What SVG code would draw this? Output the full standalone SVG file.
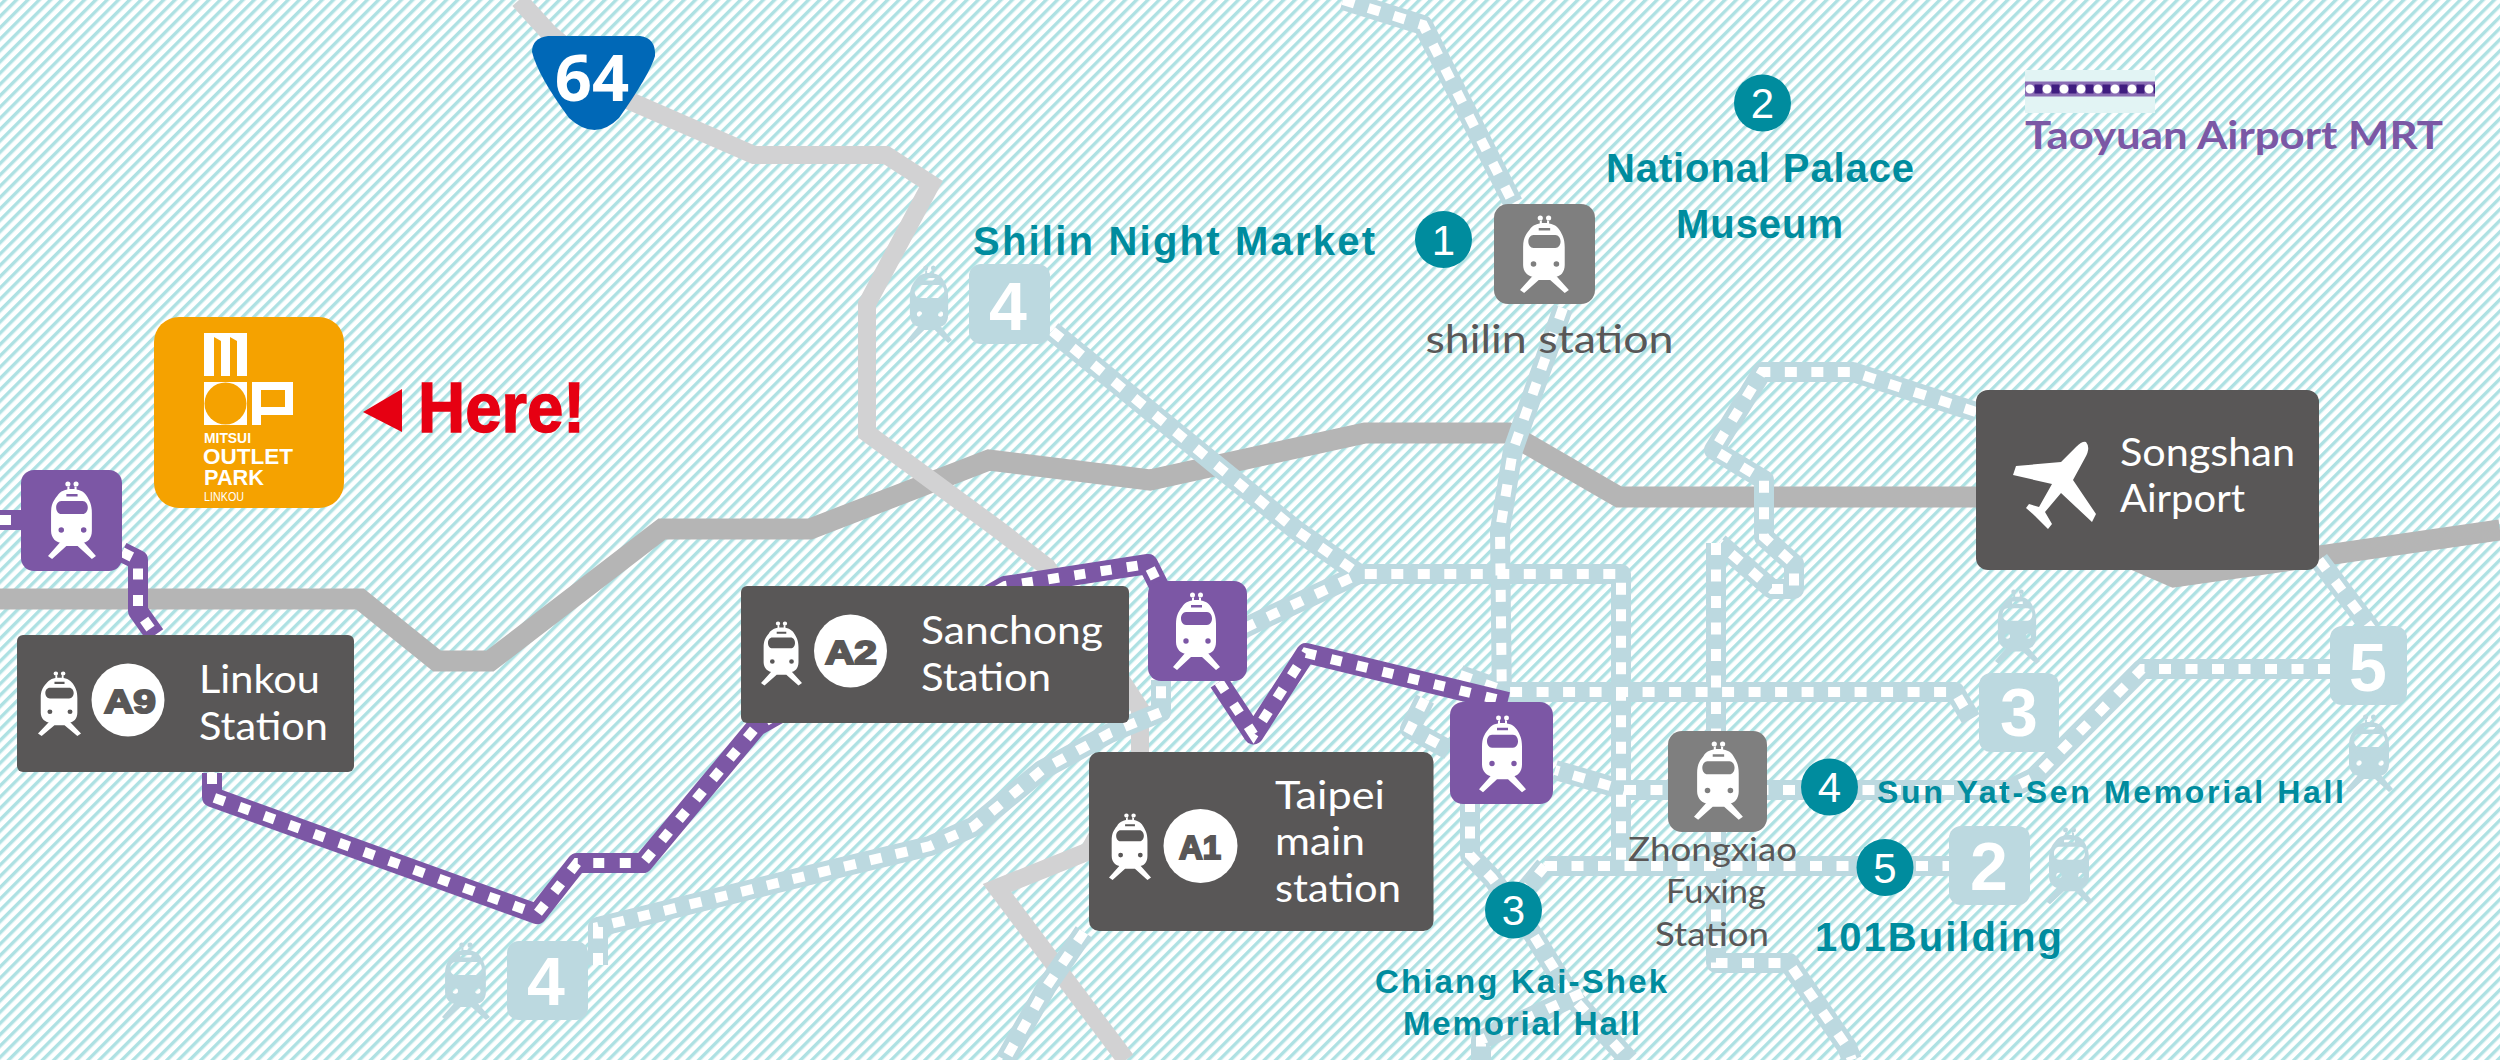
<svg xmlns="http://www.w3.org/2000/svg" width="2500" height="1060" viewBox="0 0 2500 1060">
<style>
.road1{fill:none;stroke:#b5b5b5;stroke-width:21;stroke-linejoin:miter}
.road2{fill:none;stroke:#d2d2d3;stroke-width:18;stroke-linejoin:miter}
.bl0{fill:none;stroke:#bcd9e0;stroke-width:20;stroke-linejoin:round}
.bl1{fill:none;stroke:#fff;stroke-width:10;stroke-dasharray:12 14.500}
.pu0{fill:none;stroke:#7c57a5;stroke-width:20;stroke-linejoin:round}
.pu1{fill:none;stroke:#fff;stroke-width:10;stroke-dasharray:11 15.500}
.dark{fill:#595757}
.light{fill:#bcd9e0}
.gbox{fill:#7f7f7f}
.pbox{fill:#7c57a5}
.white{color:#fff}
.pale{color:#bcd9e0}
text{font-family:"Liberation Sans",Arial,sans-serif}
.teal{fill:#008c9e;font-weight:700}
.lbl{font-family:Lato,"Open Sans",sans-serif;fill:#fff;font-size:38px}
.grey{font-family:Lato,"Open Sans",sans-serif;fill:#595757}
.num{fill:#fff;font-size:42px;text-anchor:middle}
.big{fill:#fff;font-size:68px;font-weight:700;text-anchor:middle}
.badge{fill:#595757;font-size:33px;font-weight:700;text-anchor:middle;stroke:#595757;stroke-width:2}
.lg{fill:#fff;font-weight:700}
</style>
<defs>
<pattern id="stripes" width="8" height="8" patternUnits="userSpaceOnUse" patternTransform="rotate(-45)">
<rect width="8" height="8" fill="#fff"/>
<rect y="2" width="8" height="3.400" fill="#aee1e3"/>
</pattern>
<symbol id="train" viewBox="0 0 47 78" width="47" height="78" overflow="visible">
<path fill="currentColor" fill-rule="evenodd" d="M9 15C12 10 17 8 23.500 8S35 10 38 15C41 20 43 24 43 32V50C43 57 39 62 33 62H14C8 62 3 57 3 50V32C3 24 5 20 9 15ZM13 20H34C37 20 39 23 39 26.500S37 33 34 33H13C10 33 8 30 8 26.500S10 20 13 20ZM18 13H29V15.500H18ZM10.300 49a2.700 2.700 0 1 0 5.400 0a2.700 2.700 0 1 0 -5.400 0ZM32.300 49a2.700 2.700 0 1 0 5.400 0a2.700 2.700 0 1 0 -5.400 0Z"/>
<path fill="currentColor" d="M13 60L0 75L4 78L18 65H29L43 78L47 75L34 60ZM17 3a2.500 2.500 0 1 0 5 0a2.500 2.500 0 1 0 -5 0ZM25 3a2.500 2.500 0 1 0 5 0a2.500 2.500 0 1 0 -5 0ZM19 5H21V9H19ZM26 5H28V9H26Z"/>
</symbol>
<path id="blue" d="M1343 0L1423 25L1513 203M1563 308L1513 450L1500 530L1502 710M1470 800V855L1492 878L1534 936L1571 996L1629 1060M1052 331L1296 530L1359 574H1621V866M1545 866H1949M1521 895L1545 866M598 965V927L830 870L930 846L973 827L1042 770L1110 733L1161 712V680M1220 640L1259 621L1359 574M1976 412L1853 372H1762L1714 450L1764 480V537L1794 564V589H1772L1719 543M1716 543V735M1716 830V963H1789L1847 1047L1852 1060M1460 675L1508 692H1955L1971 719M2330 669H2142L2035 777L2008 790H1624L1555 770M2319 560L2372 630M1425 699L1410 729L1449 750M1084 932L1047 986L1005 1060M1582 993L1481 1040V1060"/>
<path id="purple" d="M0 520H30M122 552L138 560V611L155 635M212 773V797L537 914L577 863H643L757 726L1005 586L1148 564L1161 590M1219 682L1253.500 734.500L1306 653L1507.600 702"/>
</defs>
<rect id="background" width="2500" height="1060" fill="url(#stripes)"/>
<g id="connectors">
<path class="road1" d="M0 599H360L437 661H490L662 529H810L989 460L1150 480L1365 433H1508L1619 497H1990L2174 577L2500 530"/>
<path class="road2" d="M519 0L550 34L630 101L754 155H886L931 184L867 304V433L999 530L1047 567L1140 709V760L1089 851L997 888L1126 1060"/>
<use href="#blue" class="bl0"/>
<use href="#blue" class="bl1"/>
<use href="#purple" class="pu0"/>
<use href="#purple" class="pu1"/>
</g>
<g id="shield-64">
<path fill="#0068b7" d="M548 36H640Q656 38 655 56Q650 74 619 118Q595 142 569 118Q538 76 532 52Q532 38 548 36Z"/>
<text x="592" y="101" font-size="65" font-weight="700" fill="#fff" text-anchor="middle" style="font-family:'Open Sans',sans-serif">64</text>
</g>
<g id="mitsui-outlet-park">
<rect x="154" y="317" width="190" height="191" rx="25" fill="#f5a200"/>
<path fill="#fff" d="M204 333H247V376H204Z"/>
<path fill="#f5a200" d="M214 337L221 341V376H214ZM230 337L237 341V376H230Z"/>
<rect x="204" y="382" width="43" height="43" fill="#fff"/>
<circle cx="225.500" cy="403.500" r="21" fill="#f5a200"/>
<path fill="#fff" fill-rule="evenodd" d="M252 382H293V415H261V425H252ZM261 390V407H285V390Z"/>
<text class="lg" x="204" y="443" font-size="14" textLength="47" lengthAdjust="spacingAndGlyphs">MITSUI</text>
<text class="lg" x="203" y="464" font-size="22" textLength="90" lengthAdjust="spacingAndGlyphs">OUTLET</text>
<text class="lg" x="204" y="485" font-size="22" textLength="60" lengthAdjust="spacingAndGlyphs">PARK</text>
<text fill="#fff" x="204" y="501" font-size="13.500" textLength="40" lengthAdjust="spacingAndGlyphs">LINKOU</text>
</g>
<g id="here">
<path fill="#e60012" d="M363 412L402 389V432Z"/>
<text x="418" y="432" font-size="71" font-weight="700" fill="#e60012" stroke="#e60012" stroke-width="1.500" textLength="167" lengthAdjust="spacingAndGlyphs">Here!</text>
</g>
<g id="legend">
<rect x="2025" y="70" width="130" height="43" fill="#e2f4f4"/>
<path d="M2025 89H2155" stroke="#8a6db4" stroke-width="15" fill="none"/>
<path d="M2034.500 89H2155" stroke="#3f1d7f" stroke-width="9" stroke-dasharray="8 9" fill="none"/>
<path d="M2030 89H2152" stroke="#fff" stroke-width="9" stroke-linecap="round" stroke-dasharray="0 17" fill="none"/>
<text x="2025" y="149" font-size="39" font-weight="700" style="font-family:Lato,'Open Sans',sans-serif" fill="#7b58a5" textLength="418" lengthAdjust="spacingAndGlyphs">Taoyuan Airport MRT</text>
</g>
<g id="station-p1" class="white">
<rect class="pbox" x="21" y="470" width="101" height="101" rx="13"/>
<use href="#train" transform="translate(48 481) scale(1.02 1)"/>
</g>
<g id="station-p2" class="white">
<rect class="pbox" x="1148" y="581" width="99" height="100" rx="13"/>
<use href="#train" transform="translate(1173 592)"/>
</g>
<g id="station-p3" class="white">
<rect class="pbox" x="1450" y="702" width="103" height="102" rx="13"/>
<use href="#train" transform="translate(1479 715) scale(1 .99)"/>
</g>
<g id="linkou" class="white">
<rect class="dark" x="17" y="635" width="337" height="137" rx="6"/>
<use href="#train" transform="translate(38 671) scale(.915 .833)"/>
<circle cx="128" cy="700" r="36.500" fill="#fff"/>
<text class="badge" x="130" y="713" textLength="52" lengthAdjust="spacingAndGlyphs">A9</text>
<text class="lbl" x="199" y="693" textLength="121" lengthAdjust="spacingAndGlyphs">Linkou</text>
<text class="lbl" x="199" y="740" textLength="129" lengthAdjust="spacingAndGlyphs">Station</text>
</g>
<g id="sanchong" class="white">
<rect class="dark" x="741" y="586" width="388" height="137" rx="6"/>
<use href="#train" transform="translate(761 621) scale(.872 .827)"/>
<circle cx="850.500" cy="651" r="36.500" fill="#fff"/>
<text class="badge" x="851" y="664" textLength="52" lengthAdjust="spacingAndGlyphs">A2</text>
<text class="lbl" x="921" y="644" textLength="182" lengthAdjust="spacingAndGlyphs">Sanchong</text>
<text class="lbl" x="921" y="690.500" textLength="130" lengthAdjust="spacingAndGlyphs">Station</text>
</g>
<g id="taipei-main" class="white">
<rect class="dark" x="1089" y="752" width="344.500" height="179" rx="10"/>
<use href="#train" transform="translate(1109 813) scale(.894 .859)"/>
<circle cx="1200.500" cy="846" r="37" fill="#fff"/>
<text class="badge" x="1200" y="859" textLength="42" lengthAdjust="spacingAndGlyphs">A1</text>
<text class="lbl" x="1275" y="809" textLength="110" lengthAdjust="spacingAndGlyphs">Taipei</text>
<text class="lbl" x="1275" y="855" textLength="90" lengthAdjust="spacingAndGlyphs">main</text>
<text class="lbl" x="1275" y="902" textLength="126" lengthAdjust="spacingAndGlyphs">station</text>
</g>
<g id="songshan" class="white">
<rect class="dark" x="1976" y="390" width="343" height="180" rx="12"/>
<path transform="translate(5 0)" fill="#fff" d="M2081 442Q2086 448 2080 458L2068 480L2091 514L2087 522L2056 493L2040 512L2047 524L2043 529L2030 516L2021 508L2024 504L2034 507L2047 484L2008 475L2011 466L2056 462L2071 447Q2077 441 2081 442Z"/>
<text class="lbl" x="2120" y="466" textLength="175" lengthAdjust="spacingAndGlyphs">Songshan</text>
<text class="lbl" x="2120" y="512" textLength="125" lengthAdjust="spacingAndGlyphs">Airport</text>
</g>
<g id="shilin" class="white">
<rect class="gbox" x="1494" y="204" width="101" height="100" rx="14"/>
<use href="#train" transform="translate(1520 215) scale(1.04 1)"/>
<text class="grey" x="1425.500" y="352.500" font-size="39" textLength="248" lengthAdjust="spacingAndGlyphs">shilin station</text>
</g>
<g id="zhongxiao" class="white">
<rect class="gbox" x="1668" y="731" width="99" height="101" rx="14"/>
<use href="#train" transform="translate(1694 741) scale(1.04 1.01)"/>
<text class="grey" x="1628" y="860.500" font-size="33" textLength="169" lengthAdjust="spacingAndGlyphs">Zhongxiao</text>
<text class="grey" x="1666" y="903" font-size="33" textLength="100" lengthAdjust="spacingAndGlyphs">Fuxing</text>
<text class="grey" x="1655" y="946" font-size="33" textLength="114" lengthAdjust="spacingAndGlyphs">Station</text>
</g>
<g id="line-box-4a" class="pale">
<use href="#train" transform="translate(907 265) scale(.957 1)"/>
<rect class="light" x="969" y="264" width="81" height="80" rx="12"/>
<text class="big" x="1008" y="330">4</text>
</g>
<g id="line-box-4b" class="pale">
<use href="#train" transform="translate(442 942) scale(1.02 1)"/>
<rect class="light" x="507" y="941" width="81" height="79" rx="12"/>
<text class="big" x="546" y="1005">4</text>
</g>
<g id="line-box-3" class="pale">
<use href="#train" transform="translate(1995 589) scale(.957 .96)"/>
<rect class="light" x="1979" y="673" width="80" height="79" rx="12"/>
<text class="big" x="2019" y="736">3</text>
</g>
<g id="line-box-5" class="pale">
<rect class="light" x="2330" y="626" width="77" height="79" rx="12"/>
<text class="big" x="2368" y="690.500">5</text>
<use href="#train" transform="translate(2346 714)"/>
</g>
<g id="line-box-2" class="pale">
<rect class="light" x="1949" y="826" width="81" height="79" rx="12"/>
<text class="big" x="1989" y="890">2</text>
<use href="#train" transform="translate(2046 827) scale(1 .99)"/>
</g>
<g id="poi-1">
<circle cx="1443.500" cy="239.500" r="28.500" fill="#008c9e"/>
<text class="num" x="1443.500" y="254.500">1</text>
<text class="teal" x="973" y="255" font-size="40" textLength="402" lengthAdjust="spacing">Shilin Night Market</text>
</g>
<g id="poi-2">
<circle cx="1762.500" cy="103" r="28.500" fill="#008c9e"/>
<text class="num" x="1762.500" y="118">2</text>
<text class="teal" x="1606" y="182" font-size="40" textLength="308" lengthAdjust="spacing">National Palace</text>
<text class="teal" x="1676" y="238" font-size="40" textLength="167" lengthAdjust="spacing">Museum</text>
</g>
<g id="poi-3">
<circle cx="1513.500" cy="910" r="28.500" fill="#008c9e"/>
<text class="num" x="1513.500" y="925">3</text>
<text class="teal" x="1375" y="992.500" font-size="33" textLength="292" lengthAdjust="spacing">Chiang Kai-Shek</text>
<text class="teal" x="1403" y="1035" font-size="33" textLength="237" lengthAdjust="spacing">Memorial Hall</text>
</g>
<g id="poi-4">
<circle cx="1829.500" cy="787" r="28.500" fill="#008c9e"/>
<text class="num" x="1829.500" y="802">4</text>
<text class="teal" x="1877" y="803" font-size="32" textLength="467" lengthAdjust="spacing">Sun Yat-Sen Memorial Hall</text>
</g>
<g id="poi-5">
<circle cx="1885" cy="867.500" r="28.500" fill="#008c9e"/>
<text class="num" x="1885" y="882.500">5</text>
<text class="teal" x="1815" y="951" font-size="40" textLength="247" lengthAdjust="spacing">101Building</text>
</g>
</svg>
